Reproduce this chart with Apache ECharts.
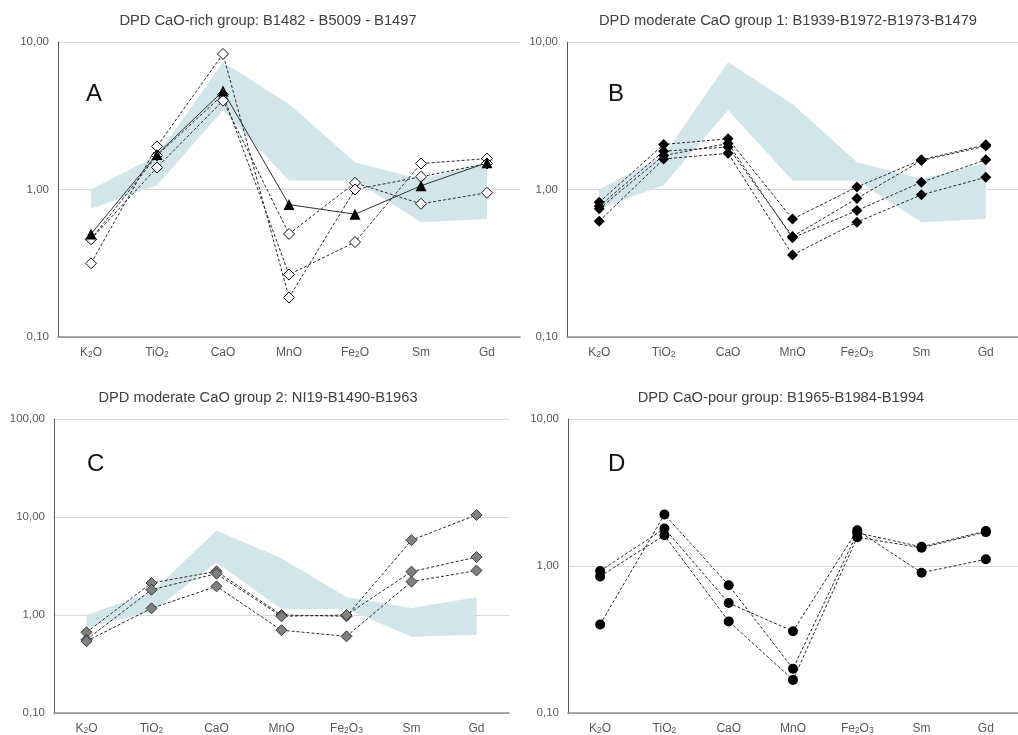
<!DOCTYPE html>
<html>
<head>
<meta charset="utf-8">
<script src="https://cdn.jsdelivr.net/npm/echarts@6/dist/echarts.min.js"></script>
<style>html,body{margin:0;padding:0;background:#fff}#c{width:1018px;height:735px}</style>
</head>
<body>
<div id="c"></div>
<script>
// ---- data ----
const categories = ['K2O', 'TiO2', 'CaO', 'MnO', 'Fe2O3', 'Sm', 'Gd'];
const categoriesA = ['K2O', 'TiO2', 'CaO', 'MnO', 'Fe2O', 'Sm', 'Gd'];
const bandUpper = [1.00, 1.70, 7.30, 3.80, 1.53, 1.18, 1.52];
const bandLower = [0.74, 1.07, 3.44, 1.15, 1.15, 0.60, 0.63];

const titles = [
  'DPD CaO-rich group: B1482 - B5009 - B1497',
  'DPD moderate CaO group 1: B1939-B1972-B1973-B1479',
  'DPD moderate CaO group 2: NI19-B1490-B1963',
  'DPD CaO-pour group: B1965-B1984-B1994'
];
const panelLetters = ['A', 'B', 'C', 'D'];
const yMin = [0.1, 0.1, 0.1, 0.1];
const yMax = [10, 10, 100, 10];

// Panel A (open diamonds, dashed) + triangle (solid)
const a1 = [0.46, 1.70, 4.40, 0.265, 0.44, 1.50, 1.62];
const a2 = [0.46, 1.41, 4.00, 0.50, 1.11, 0.80, 0.95];
const a3 = [0.316, 1.96, 8.30, 0.185, 1.00, 1.22, 1.50];
const aTri = [0.50, 1.73, 4.65, 0.79, 0.68, 1.06, 1.52];

// Panel B (black diamonds)
const b1 = [0.82, 2.02, 2.21, 0.63, 1.04, 1.59, 2.01];
const b2 = [0.77, 1.82, 1.94, 0.48, 0.87, 1.57, 1.97];
const b3 = [0.74, 1.70, 2.05, 0.47, 0.72, 1.12, 1.59];
const b4 = [0.61, 1.61, 1.76, 0.36, 0.60, 0.92, 1.21];

// Panel C (grey diamonds)
const c1 = [0.666, 2.12, 2.79, 1.00, 0.97, 5.80, 10.5];
const c2 = [0.56, 1.81, 2.64, 0.97, 1.00, 2.77, 3.90];
const c3 = [0.54, 1.17, 1.96, 0.70, 0.606, 2.19, 2.84];

// Panel D (black circles)
const d1 = [0.40, 2.24, 0.74, 0.20, 1.68, 1.35, 1.73];
const d2 = [0.925, 1.80, 0.56, 0.36, 1.75, 0.90, 1.11];
const d3 = [0.85, 1.62, 0.42, 0.168, 1.57, 1.33, 1.70];

// ---- layout/style ----
const FONT = "'Liberation Sans', Arial, sans-serif";
const grids = [
  {left: 58, top: 42, width: 462, height: 295},
  {left: 567, top: 42, width: 462, height: 295},
  {left: 54, top: 419, width: 455, height: 295},
  {left: 568, top: 419, width: 462, height: 295}
];
const titlePos = [[268, 13], [788, 13], [258, 390], [781, 390]];
const letterPos = [[86, 82], [608, 82], [87, 452], [608, 452]];
const bandColor = '#d2e6e9';

const dashed = {type: [3, 2], width: 1, color: '#2a2a2a'};
const styles = {
  openDiamond: {symbol: 'diamond', symbolSize: 11, itemStyle: {color: '#fff', borderColor: '#111', borderWidth: 1}, lineStyle: dashed},
  triangle: {symbol: 'triangle', symbolSize: 11, itemStyle: {color: '#000'}, lineStyle: {type: 'solid', width: 1, color: '#333'}},
  blackDiamond: {symbol: 'diamond', symbolSize: 11, itemStyle: {color: '#000'}, lineStyle: dashed},
  greyDiamond: {symbol: 'diamond', symbolSize: 11, itemStyle: {color: '#808080', borderColor: '#3a3a3a', borderWidth: 1}, lineStyle: dashed},
  circle: {symbol: 'circle', symbolSize: 10, itemStyle: {color: '#000'}, lineStyle: dashed}
};

const panels = [
  {cats: categoriesA, band: true, series: [[a1, 'openDiamond'], [a2, 'openDiamond'], [a3, 'openDiamond'], [aTri, 'triangle']]},
  {cats: categories, band: true, series: [[b1, 'blackDiamond'], [b2, 'blackDiamond'], [b3, 'blackDiamond'], [b4, 'blackDiamond']]},
  {cats: categories, band: true, series: [[c1, 'greyDiamond'], [c2, 'greyDiamond'], [c3, 'greyDiamond']]},
  {cats: categories, band: false, series: [[d1, 'circle'], [d2, 'circle'], [d3, 'circle']]}
];

const subFormatter = v => v.split(/(\d)/).filter(t => t.length)
  .map(t => /\d/.test(t) ? '{s|' + t + '}' : '{n|' + t + '}').join('');

const option = {
  animation: false,
  backgroundColor: '#fff',
  textStyle: {fontFamily: FONT},
  title: [],
  grid: [],
  xAxis: [],
  yAxis: [],
  series: []
};

panels.forEach((p, i) => {
  option.title.push({
    text: titles[i], left: titlePos[i][0], top: titlePos[i][1], textAlign: 'center', padding: 0,
    textStyle: {fontFamily: FONT, fontSize: 14.7, fontWeight: 'normal', color: '#404040'}
  });
  option.title.push({
    text: panelLetters[i], left: letterPos[i][0], top: letterPos[i][1], padding: 0,
    textStyle: {fontFamily: FONT, fontSize: 24, fontWeight: 'normal', color: '#111'}
  });
  option.grid.push(Object.assign({containLabel: false}, grids[i]));
  option.xAxis.push({
    type: 'category', gridIndex: i, data: p.cats, boundaryGap: true,
    axisTick: {show: false},
    axisLine: {lineStyle: {color: '#8c8c8c', width: 1.5}},
    axisLabel: {
      interval: 0, margin: 6, fontSize: 12, color: '#595959', fontFamily: FONT,
      formatter: subFormatter,
      rich: {
        n: {fontSize: 12, lineHeight: 16, color: '#595959', fontFamily: FONT, verticalAlign: 'bottom'},
        s: {fontSize: 8.5, lineHeight: 12, color: '#595959', fontFamily: FONT, verticalAlign: 'bottom', padding: [4, 0, 0, 0]}
      }
    },
    splitLine: {show: false}
  });
  option.yAxis.push({
    type: 'log', logBase: 10, gridIndex: i, min: yMin[i], max: yMax[i],
    axisLine: {show: true, lineStyle: {color: '#595959', width: 1}},
    axisTick: {show: false},
    minorTick: {show: false},
    axisLabel: {fontSize: 11.5, color: '#595959', margin: 9, fontFamily: FONT,
      formatter: v => Number(v).toFixed(2).replace('.', ',')},
    splitLine: {show: true, lineStyle: {color: '#d9d9d9', width: 1}}
  });
  if (p.band) {
    option.series.push({
      type: 'custom', xAxisIndex: i, yAxisIndex: i, z: 1, silent: true,
      data: [[0, 1]],
      renderItem: (params, api) => {
        const pts = [];
        for (let k = 0; k < bandUpper.length; k++) pts.push(api.coord([k, bandUpper[k]]));
        for (let k = bandLower.length - 1; k >= 0; k--) pts.push(api.coord([k, bandLower[k]]));
        return {type: 'polygon', shape: {points: pts}, style: {fill: bandColor}};
      }
    });
  }
  p.series.forEach(([vals, st]) => {
    const s = styles[st];
    option.series.push({
      type: 'line', xAxisIndex: i, yAxisIndex: i, z: 3,
      data: vals,
      symbol: s.symbol, symbolSize: s.symbolSize,
      itemStyle: s.itemStyle, lineStyle: s.lineStyle,
      emphasis: {disabled: true}
    });
  });
});

const chart = echarts.init(document.getElementById('c'), null, {renderer: 'canvas'});
chart.setOption(option);
</script>
</body>
</html>
